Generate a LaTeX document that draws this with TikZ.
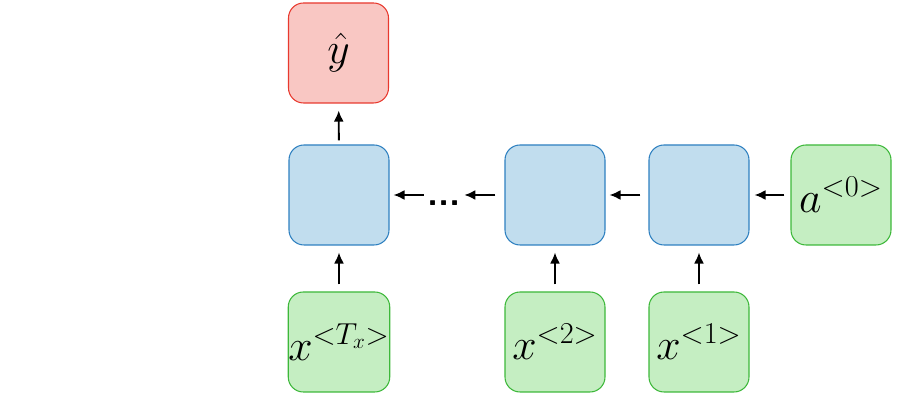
\documentclass[tikz,border=0pt]{standalone}
\usepackage{amsmath}
\usetikzlibrary{arrows.meta}

\definecolor{cellfill}{RGB}{193,221,238}
\definecolor{celldraw}{RGB}{46,128,192}
\definecolor{infill}{RGB}{197,238,194}
\definecolor{indraw}{RGB}{61,184,58}
\definecolor{outfill}{RGB}{249,199,195}
\definecolor{outdraw}{RGB}{232,57,46}

\begin{document}
\begin{tikzpicture}[
  box/.style={rounded corners=0.3cm, minimum width=2cm, minimum height=2cm,
    inner sep=0pt, line width=0.6pt, font=\fontsize{23}{28}\selectfont},
  cell/.style={box, draw=celldraw, fill=cellfill},
  inp/.style={box, draw=indraw, fill=infill},
  outp/.style={box, draw=outdraw, fill=outfill},
  arr/.style={-{Latex[length=0.22cm,width=0.2cm]}, line width=1.1pt,
    shorten <=0.12cm, shorten >=0.1cm}
]
\useasboundingbox (0,0) rectangle (18,8);

% Output
\node[outp] (yhat) at (6.77,6.94) {$\hat{y}$};

% Hidden cells
\node[cell] (h1) at (6.78,4.10) {};
\node[cell] (h2) at (11.10,4.10) {};
\node[cell] (h3) at (13.98,4.10) {};
\node[inp] (a0) at (16.82,4.10) {$a^{<0>}$};
\node[minimum width=0.8cm, inner sep=0pt, text height=0.44cm, text depth=0cm,
  font=\huge\sffamily\bfseries] (dots) at (8.88,4.10) {...};

% Inputs
\node[inp] (xT) at (6.78,1.16) {$x^{<T_x>}$};
\node[inp] (x2) at (11.10,1.16) {$x^{<2>}$};
\node[inp] (x1) at (13.98,1.16) {$x^{<1>}$};

% Arrows
\draw[arr] (a0) -- (h3);
\draw[arr, shorten <=0.16cm, shorten >=0.08cm] (h3) -- (h2);
\draw[arr, shorten <=0.18cm, shorten >=0cm] (h2) -- (dots);
\draw[arr, shorten <=0cm, shorten >=0.08cm] (dots) -- (h1);
\draw[arr, shorten <=0.08cm, shorten >=0.14cm] (h1) -- (yhat);
\draw[arr, shorten <=0.14cm, shorten >=0.14cm] (xT) -- (h1);
\draw[arr, shorten <=0.14cm, shorten >=0.14cm] (x2) -- (h2);
\draw[arr, shorten <=0.14cm, shorten >=0.14cm] (x1) -- (h3);

\end{tikzpicture}
\end{document}
